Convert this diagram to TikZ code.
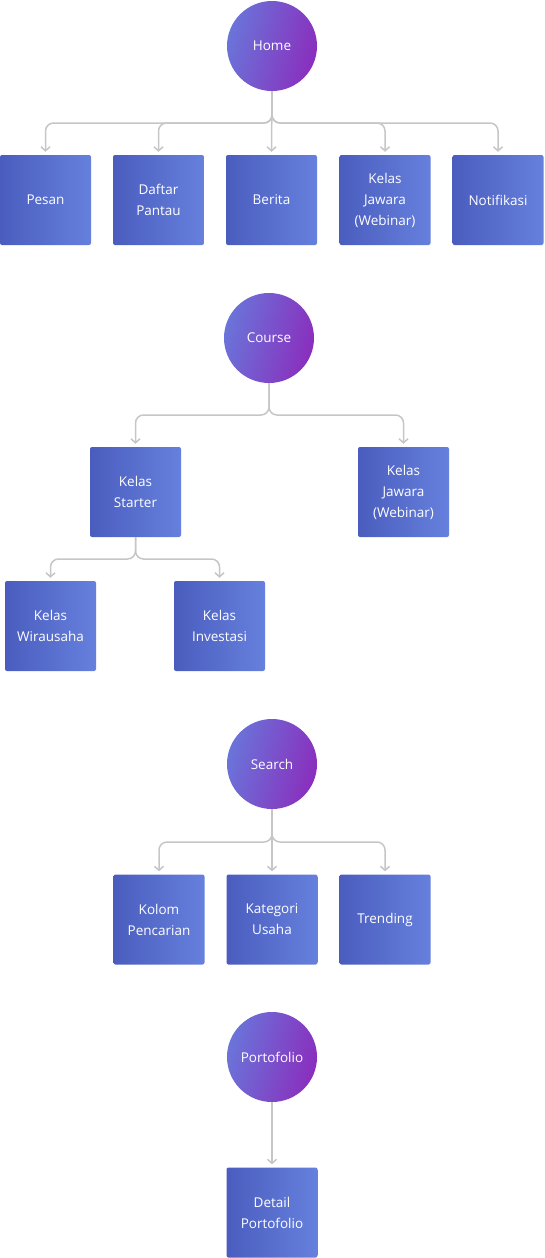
\documentclass[tikz,border=0pt]{standalone}
\usepackage{fontspec}
\setmainfont{Open Sans}
\usetikzlibrary{arrows.meta,calc}
\definecolor{circL}{HTML}{6A74D9}
\definecolor{circR}{HTML}{8A2EBD}
\definecolor{boxL}{HTML}{4A5DBE}
\definecolor{boxR}{HTML}{6680DD}
\definecolor{lineC}{HTML}{C6C6C6}
\tikzset{
  hub/.style={circle, minimum size=90pt, inner sep=0pt, left color=circL, right color=circR, shading angle=75, text=white, font=\fontsize{13.5}{21}\selectfont, align=center},
  leaf/.style={rectangle, rounded corners=2pt, minimum width=91pt, minimum height=90pt, inner sep=0pt, left color=boxL, right color=boxR, text=white, font=\fontsize{13.5}{21}\selectfont, align=center},
  conn/.style={draw=lineC, line width=1.5pt, rounded corners=8pt, -{Straight Barb[length=4pt,width=9pt,line width=1.5pt]}, shorten >=3pt},
}
\begin{document}
\begin{tikzpicture}[x=1pt,y=-1pt]
\useasboundingbox (0,0) rectangle (544,1258);
% Home
\node[hub] (home) at (272,46) {Home};
\node[leaf] (pesan) at (45.5,200) {Pesan};
\node[leaf] (daftar) at (158.5,200) {Daftar\\Pantau};
\node[leaf] (berita) at (271.5,200) {Berita};
\node[leaf] (kj1) at (385,200) {Kelas\\Jawara\\(Webinar)};
\node[leaf] (notif) at (498,200) {Notifikasi};
\coordinate (j1) at (0,123);
\foreach \c in {pesan,daftar,kj1,notif}{
  \draw[conn] (home.south) |- (\c.north |- j1) -- (\c.north);
}
\draw[conn] (home.south) -- (berita.north);
% Course
\node[hub] (course) at (269,338) {Course};
\node[leaf] (starter) at (135.5,492) {Kelas\\Starter};
\node[leaf] (kj2) at (403.5,492) {Kelas\\Jawara\\(Webinar)};
\coordinate (j2) at (0,415);
\foreach \c in {starter,kj2}{
  \draw[conn] (course.south) |- (\c.north |- j2) -- (\c.north);
}
\node[leaf] (wira) at (50.5,626) {Kelas\\Wirausaha};
\node[leaf] (inv) at (219.5,626) {Kelas\\Investasi};
\coordinate (j3) at (0,559);
\foreach \c in {wira,inv}{
  \draw[conn] (starter.south) |- (\c.north |- j3) -- (\c.north);
}
% Search
\node[hub] (search) at (272,764) {Search};
\node[leaf] (kolom) at (159,919.5) {Kolom\\Pencarian};
\node[leaf] (kat) at (272,919.5) {Kategori\\Usaha};
\node[leaf] (trend) at (385,919.5) {Trending};
\coordinate (j4) at (0,842);
\foreach \c in {kolom,trend}{
  \draw[conn] (search.south) |- (\c.north |- j4) -- (\c.north);
}
\draw[conn] (search.south) -- (kat.north);
% Portofolio
\node[hub] (porto) at (272,1057) {Portofolio};
\node[leaf] (detail) at (272,1212.5) {Detail\\Portofolio};
\draw[conn] (porto.south) -- (detail.north);
\end{tikzpicture}
\end{document}
